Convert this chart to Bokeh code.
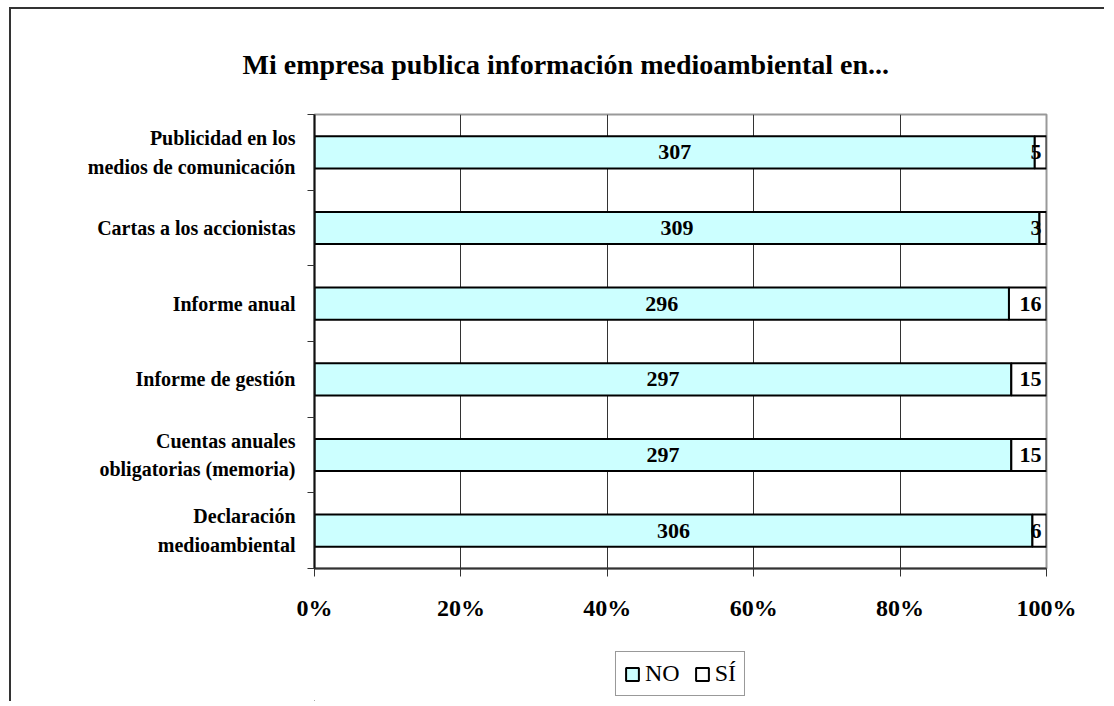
from bokeh.plotting import figure
from bokeh.layouts import column
from bokeh.models import (Range1d, FixedTicker, NumeralTickFormatter, LabelSet,
                          Legend, LegendItem, ColumnDataSource, CDSView, IndexFilter)
from bokeh.core.properties import value
from bokeh.embed import file_html
from bokeh.resources import INLINE

# ---------------- data ----------------
title_text = "Mi empresa publica información medioambiental en..."
categories = [
    "Publicidad en los\nmedios de comunicación",
    "Cartas a los accionistas",
    "Informe anual",
    "Informe de gestión",
    "Cuentas anuales\nobligatorias (memoria)",
    "Declaración\nmedioambiental",
]
no_values = [307, 309, 296, 297, 297, 306]
si_values = [5, 3, 16, 15, 15, 6]
series_names = ["NO", "SÍ"]
x_ticks = [0, 0.2, 0.4, 0.6, 0.8, 1.0]

# ---------------- layout / style ----------------
FONT = "Liberation Serif"
NO_STYLE = dict(fill_color="#CCFFFF", line_color="black", line_width=2)
SI_STYLE = dict(fill_color="white", line_color="black", line_width=2)
BORDER_L, BORDER_R = 303, 60
FRAME_W, FRAME_H = 730, 452
LEGEND_H = 75
EDGE = "2px solid #333333"

n = len(categories)
totals = [a + b for a, b in zip(no_values, si_values)]
ypos = [n - 0.5 - i for i in range(n)]
no_frac = [a / t for a, t in zip(no_values, totals)]

src = ColumnDataSource(dict(
    y=ypos,
    no_end=no_frac,
    one=[1.0] * n,
    no_mid=[f / 2 for f in no_frac],
    no_lab=[str(v) for v in no_values],
    si_lab=[str(v) for v in si_values],
))

# ---------------- main chart ----------------
p = figure(frame_width=FRAME_W, frame_height=FRAME_H, output_backend="svg", toolbar_location=None,
           x_range=Range1d(0, 1), y_range=Range1d(0, n),
           min_border_left=BORDER_L, min_border_right=BORDER_R,
           min_border_top=105, min_border_bottom=60)
p.styles = {"margin-left": "9px", "margin-top": "7px",
            "border-left": EDGE, "border-top": EDGE}
p.background_fill_color = "white"
p.border_fill_color = "white"
p.outline_line_color = "#999999"
p.outline_line_width = 2

# title
p.title.text = title_text
p.title.text_font = FONT
p.title.text_font_style = "bold"
p.title.text_font_size = "28px"
p.title.text_color = "black"
p.title.align = "left"
p.title.offset = -72
p.title.standoff = 70

p.hbar(y="y", left=0, right="no_end", height=0.425, source=src, **NO_STYLE)
p.hbar(y="y", left="no_end", right="one", height=0.425, source=src, **SI_STYLE)

p.add_layout(LabelSet(x="no_mid", y="y", text="no_lab", source=src,
                      text_align="center", text_baseline="middle",
                      text_font=value(FONT), text_font_style="bold",
                      text_font_size="22px", text_color="black"))
p.add_layout(LabelSet(x="one", y="y", text="si_lab", source=src, x_offset=-5,
                      text_align="right", text_baseline="middle",
                      text_font=value(FONT), text_font_style="bold",
                      text_font_size="22px", text_color="black"))

# grid
p.ygrid.visible = False
p.xgrid.ticker = FixedTicker(ticks=x_ticks[1:-1])
p.xgrid.grid_line_color = "#333333"
p.xgrid.grid_line_width = 1

# x axis
p.xaxis.ticker = FixedTicker(ticks=x_ticks)
p.xaxis.formatter = NumeralTickFormatter(format="0%")
p.xaxis.major_label_text_font = FONT
p.xaxis.major_label_text_font_style = "bold"
p.xaxis.major_label_text_font_size = "24px"
p.xaxis.major_label_text_color = "black"
p.xaxis.major_label_standoff = 18
p.xaxis.major_tick_out = 8
p.xaxis.major_tick_in = 0
p.xaxis.minor_tick_line_color = None
p.xaxis.axis_line_color = "#333333"
p.xaxis.axis_line_width = 2
p.xaxis.major_tick_line_color = "#333333"

# y axis: labels at category centres, tick marks at boundaries
p.yaxis.ticker = FixedTicker(ticks=ypos, minor_ticks=list(range(n + 1)))
p.yaxis.major_label_overrides = {y: c for y, c in zip(ypos, categories)}
p.yaxis.major_label_text_font = FONT
p.yaxis.major_label_text_font_style = "bold"
p.yaxis.major_label_text_font_size = "20px"
p.yaxis.major_label_text_color = "black"
p.yaxis.major_label_text_line_height = 1.3
p.yaxis.major_label_standoff = 12
p.yaxis.major_tick_line_color = None
p.yaxis.major_tick_out = 0
p.yaxis.major_tick_in = 0
p.yaxis.minor_tick_out = 7
p.yaxis.minor_tick_in = 0
p.yaxis.minor_tick_line_color = "#333333"
p.yaxis.axis_line_color = "#111111"
p.yaxis.axis_line_width = 2

# ---------------- legend strip ----------------
# legend glyphs reuse one bar of the data, placed outside this strip's visible ranges
p2 = figure(frame_width=FRAME_W, frame_height=LEGEND_H, output_backend="svg",
            toolbar_location=None, x_axis_location=None, y_axis_location=None,
            x_range=Range1d(50, 51), y_range=Range1d(50 * n, 51 * n),
            min_border_left=BORDER_L, min_border_right=BORDER_R,
            min_border_top=0, min_border_bottom=0)
p2.styles = {"margin-left": "9px", "border-left": EDGE}
p2.background_fill_color = "white"
p2.border_fill_color = "white"
p2.outline_line_color = None
p2.grid.visible = False
first_only = CDSView(filter=IndexFilter(indices=[0]))
g_no = p2.hbar(y="y", left=0, right="no_end", height=0.425, source=src, view=first_only, **NO_STYLE)
g_si = p2.hbar(y="y", left="no_end", right="one", height=0.425, source=src, view=first_only, **SI_STYLE)

legend = Legend(items=[LegendItem(label=series_names[0], renderers=[g_no]),
                       LegendItem(label=series_names[1], renderers=[g_si])],
                orientation="horizontal", location="top",
                border_line_color="#333333", border_line_width=1,
                label_text_font=FONT, label_text_font_size="24px", label_text_color="black",
                glyph_width=16, glyph_height=16, label_standoff=5,
                spacing=14, padding=8, margin=25)
p2.add_layout(legend)

layout = column(p, p2, spacing=0)
open("out.html", "w").write(file_html(layout, INLINE))
